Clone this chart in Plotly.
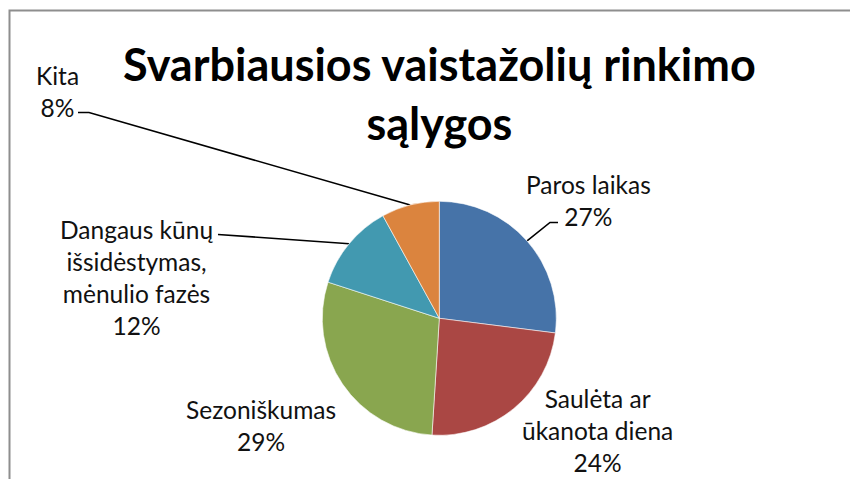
import math
import plotly.graph_objects as go

# ---- data ----
categories = ["Paros laikas", "Saulėta ar ūkanota diena", "Sezoniškumas",
              "Dangaus kūnų išsidėstymas, mėnulio fazės", "Kita"]
label_text = ["Paros laikas<br>27%", "Saulėta ar<br>ūkanota diena<br>24%",
              "Sezoniškumas<br>29%", "Dangaus kūnų<br>išsidėstymas,<br>mėnulio fazės<br>12%",
              "Kita<br>8%"]
values = [27, 24, 29, 12, 8]
colors = ["#4673A8", "#AA4744", "#89A64F", "#4299B0", "#DB843E"]
title_text = "Svarbiausios vaistažolių rinkimo<br>sąlygos"

# the page body has an 8px margin; work in window pixel coordinates
OFF = 8
W, H = 850, 471
CX, CY, R = 439.3, 318.3, 117.0
FONT = "Lato"

# label placement (window pixel coords) and leader elbows (None = no leader)
label_pos = [(588, 200), (597, 430), (261, 425), (136, 277), (57, 91)]
leader_elbow = [[(550, 222.5), (558, 222.5)], None, None,
                [(227, 234.5), (218, 234.5)], [(89, 112.5), (78, 112.5)]]

fig = go.Figure()

fig.add_trace(go.Pie(
    labels=categories, values=values, sort=False, direction="clockwise",
    rotation=0, marker=dict(colors=colors, line=dict(color="rgba(255,255,255,0.7)", width=0.8)),
    textinfo="none", hoverinfo="label+percent", showlegend=False,
    domain=dict(x=[(CX - OFF - R) / W, (CX - OFF + R) / W],
                y=[(H - (CY - OFF) - R) / H, (H - (CY - OFF) + R) / H]),
))

# leader lines: start at slice-midpoint on pie edge, computed from the data
total = sum(values)
cum = 0.0
for i, v in enumerate(values):
    mid = (cum + v / 2) / total
    cum += v
    if leader_elbow[i] is None:
        continue
    ang = 2 * math.pi * mid
    px = CX + R * math.sin(ang)
    py = CY - R * math.cos(ang)
    xs = [px] + [p[0] for p in leader_elbow[i]]
    ys = [py] + [p[1] for p in leader_elbow[i]]
    fig.add_trace(go.Scatter(x=xs, y=ys, mode="lines", line=dict(color="black", width=1.6),
                             hoverinfo="skip", showlegend=False))

for txt, (lx, ly) in zip(label_text, label_pos):
    fig.add_annotation(x=lx, y=ly, xref="x", yref="y", text=txt, showarrow=False,
                       xanchor="center", yanchor="middle", align="center",
                       font=dict(family=FONT, size=24.5, color="#111111"))

fig.add_annotation(x=439, y=93, xref="x", yref="y", text="<b>" + title_text + "</b>",
                   showarrow=False, xanchor="center", yanchor="middle", align="center",
                   font=dict(family=FONT, size=45, color="black"))

# chart area border
fig.add_shape(type="rect", x0=9.5, y0=10.5, x1=900, y1=520, xref="x", yref="y",
              line=dict(color="#8E8E8E", width=2), layer="below")

fig.update_layout(
    width=W, height=H, margin=dict(l=0, r=0, t=0, b=0),
    paper_bgcolor="white", plot_bgcolor="rgba(0,0,0,0)",
    xaxis=dict(range=[OFF, OFF + W], visible=False, fixedrange=True, domain=[0, 1]),
    yaxis=dict(range=[OFF + H, OFF], visible=False, fixedrange=True, domain=[0, 1]),
)

fig.write_html("out.html")
